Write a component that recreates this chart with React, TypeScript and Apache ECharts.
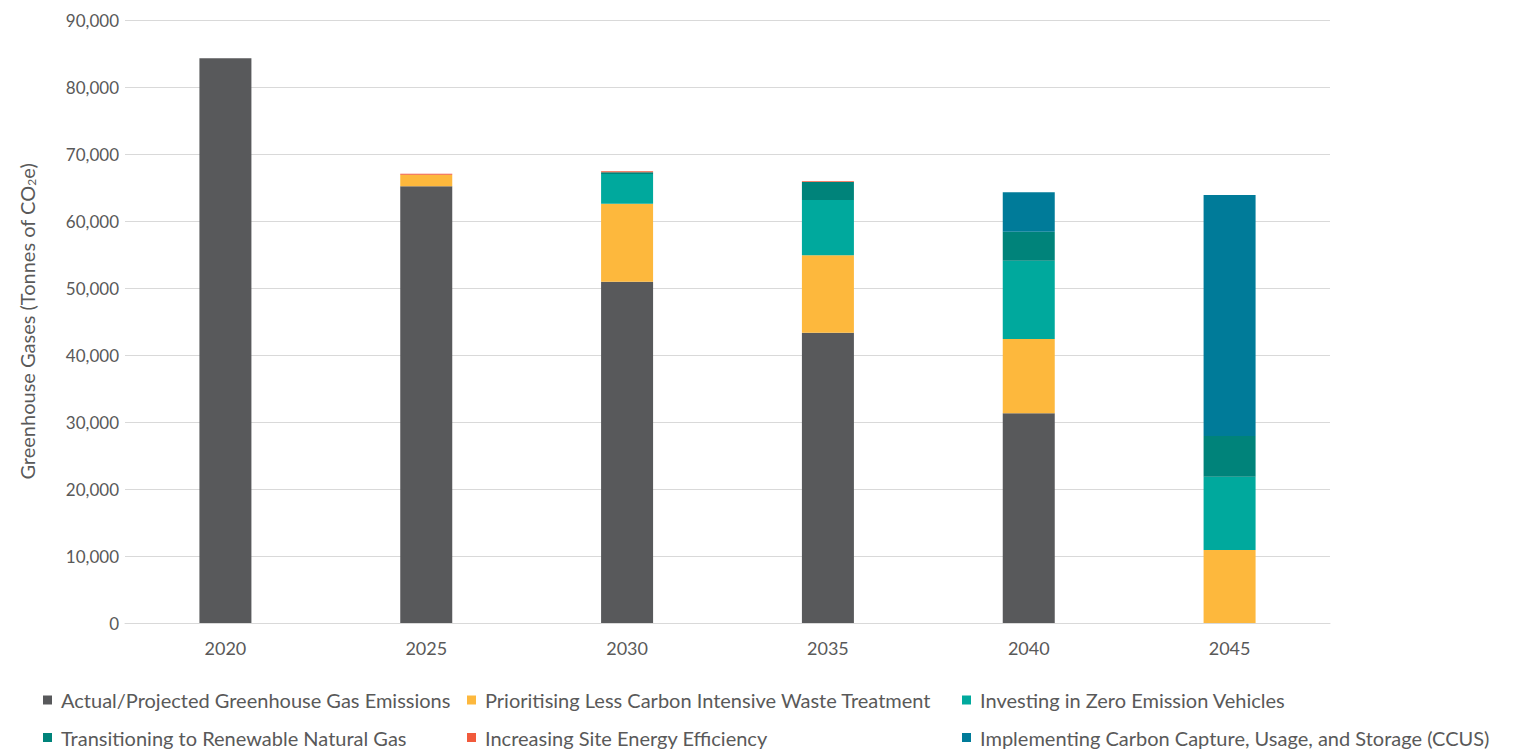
import React, { useEffect, useRef } from "react";
import * as echarts from "echarts";

const years = ["2020", "2025", "2030", "2035", "2040", "2045"];
const actual = [84300, 65200, 50950, 43330, 31300, 0];
const waste = [0, 1720, 11640, 11550, 11090, 10900];
const zev = [0, 0, 4430, 8250, 11690, 10940];
const rng = [0, 0, 250, 2690, 4330, 6070];
const efficiency = [0, 150, 150, 100, 0, 0];
const ccus = [0, 0, 0, 0, 5880, 35970];

const seriesNames = [
  "Actual/Projected Greenhouse Gas Emissions",
  "Prioritising Less Carbon Intensive Waste Treatment",
  "Investing in Zero Emission Vehicles",
  "Transitioning to Renewable Natural Gas",
  "Increasing Site Energy Efficiency",
  "Implementing Carbon Capture, Usage, and Storage (CCUS)",
];
const seriesData = [actual, waste, zev, rng, efficiency, ccus];
const colors = ["#58595b", "#fdb83d", "#00a99d", "#00837a", "#f15a3c", "#007b99"];

// legend layout: [left, top] per series
const legendPos: [number, number][] = [
  [43, 690],
  [467, 690],
  [962, 690],
  [43, 727.5],
  [467, 727.5],
  [962, 727.5],
];

const FONT = "Lato, 'Open Sans', sans-serif";
const TEXT = "#595959";

export default function App() {
  const ref = useRef<HTMLDivElement>(null);
  useEffect(() => {
    if (!ref.current) return;
    const chart = echarts.init(ref.current, null, { renderer: "svg" });
    chart.setOption({
      animation: false,
      color: colors,
      textStyle: { fontFamily: FONT },
      grid: { left: 125, right: 186, top: 20, bottom: 127 },
      legend: seriesNames.map((name, i) => ({
        left: legendPos[i][0],
        top: legendPos[i][1],
        padding: 0,
        itemWidth: 9,
        itemHeight: 9,
        icon: "rect",
        data: [name],
        textStyle: { fontFamily: FONT, fontSize: 20, color: TEXT, padding: [0, 0, 0, 4] },
      })),
      xAxis: {
        type: "category",
        data: years,
        axisLine: { lineStyle: { color: "#d9d9d9", width: 1 } },
        axisTick: { show: false },
        axisLabel: { color: TEXT, fontSize: 18, fontFamily: FONT, margin: 16 },
      },
      yAxis: {
        type: "value",
        min: 0,
        max: 90000,
        interval: 10000,
        name: "Greenhouse Gases (Tonnes of CO{sub|2}e)",
        nameLocation: "middle",
        nameGap: 88,
        nameRotate: 90,
        nameTextStyle: {
          color: TEXT,
          fontSize: 20,
          fontFamily: FONT,
          rich: {
            sub: { fontSize: 12, color: TEXT, fontFamily: FONT, verticalAlign: "bottom", padding: [9, 0, 0, 0] },
          },
        },
        axisLine: { show: false },
        axisTick: { show: false },
        splitLine: { lineStyle: { color: "#d9d9d9", width: 1 } },
        axisLabel: {
          color: TEXT,
          fontSize: 17,
          fontFamily: FONT,
          margin: 6,
          formatter: (v: number) => v.toLocaleString("en-US"),
        },
      },
      series: seriesNames.map((name, i) => ({
        name,
        type: "bar",
        stack: "total",
        barWidth: 52,
        data: seriesData[i],
        itemStyle: { color: colors[i] },
      })),
    });
    return () => chart.dispose();
  }, []);
  return (
    <div
      ref={ref}
      style={{ position: "fixed", left: 0, top: 0, width: 1516, height: 750, background: "#fff" }}
    />
  );
}
